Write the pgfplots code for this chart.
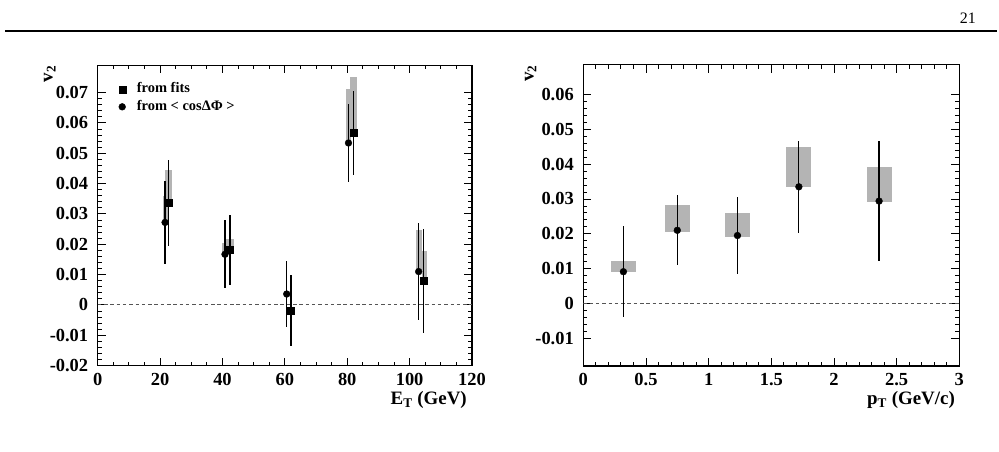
\documentclass[border=0pt]{standalone}
\usepackage{fontspec}
\setmainfont{Liberation Serif}
\usepackage{pgfplots}
\usepackage{pgfplotstable}
\pgfplotsset{compat=1.18}

\definecolor{sysgray}{RGB}{180,180,180}
\definecolor{zeroline}{RGB}{85,85,85}

% v2 vs E_T: values from <cos dPhi> and from fits
\pgfplotstableread{
x     y       err
21.6  0.0272  0.0137
40.8  0.0167  0.0112
60.6  0.0036  0.0110
80.4  0.0534  0.0128
102.9 0.0110  0.0160
}\etcos
\pgfplotstableread{
x     y       err
22.7  0.0336  0.0143
42.4  0.0182  0.0115
62.0  -0.0019 0.0118
82.0  0.0567  0.0137
104.5 0.0079  0.0170
}\etfit
% v2 vs pT
\pgfplotstableread{
x     y       err
0.32  0.0091  0.0131
0.75  0.0210  0.0101
1.23  0.0195  0.0112
1.72  0.0335  0.0133
2.36  0.0294  0.0172
}\ptcos

\pgfplotsset{
  rootframe/.style={
    scale only axis,
    axis line style={line width=1.3bp},
    tick pos=both, tick align=inside,
    major tick length=8bp, minor tick length=4bp,
    every tick/.style={line width=0.9bp, black},
    tick label style={font=\fontsize{18.5}{20}\selectfont\bfseries},
    xticklabel style={yshift=-4bp},
    yticklabel style={xshift=-6bp},
    /pgf/number format/assume math mode=true,
    scaled ticks=false,
    label style={font=\fontsize{19}{21}\selectfont\bfseries},
    minor y tick num=4,
  },
  sysbox/.style={forget plot, draw=none, fill=sysgray},
  zero/.style={forget plot, zeroline, line width=1bp, dash pattern=on 3.5bp off 2.8bp},
  pts/.style={
    only marks, black,
    error bars/y dir=both, error bars/y explicit,
    error bars/error mark=none,
    error bars/error bar style={line width=1.2bp, black},
    legend image code/.code={%
      \path (-10bp,0bp) (13bp,0bp);
      \draw[##1] plot coordinates {(0bp,0bp)};},
  },
}

\begin{document}
\begin{tikzpicture}
\path[use as bounding box] (0,0) rectangle (999bp,452bp);

% running header
\node[anchor=base east, font=\fontsize{16}{18}\selectfont, inner sep=0pt] at (976bp,428bp) {21};
\draw[line width=1.6bp] (5bp,421bp) -- (997bp,421bp);

% ---- left panel: v2 vs E_T ----
\begin{axis}[rootframe,
  at={(97.7bp,86.4bp)}, anchor=south west,
  width=374.3bp, height=300.3bp,
  xmin=0, xmax=120, ymin=-0.02, ymax=0.079,
  xtick={0,20,40,60,80,100,120}, minor x tick num=3,
  ytick={-0.02,-0.01,0,0.01,0.02,0.03,0.04,0.05,0.06,0.07},
  yticklabels={-0.02,-0.01,0,0.01,0.02,0.03,0.04,0.05,0.06,0.07},
  xlabel={E\textsubscript{T} (GeV)},
  xlabel style={at={(axis description cs:0.9866,-0.131)}, anchor=base east, inner sep=0pt},
  ylabel={v\textsubscript{2}},
  ylabel style={at={(axis description cs:-0.128,1)}, anchor=east, inner sep=0pt},
  legend style={at={(axis description cs:0.0377,0.947)}, anchor=north west,
    draw=none, fill=none, font=\fontsize{14.5}{16}\selectfont\bfseries,
    row sep=1.4bp, inner sep=0pt,
    nodes={inner sep=1.5bp, text height=10bp, text depth=3bp}},
  legend cell align=left,
]
% systematic boxes
\addplot[sysbox] coordinates {(20.8,0.0265) (22.4,0.0265) (22.4,0.0360) (20.8,0.0360)} -- cycle;
\addplot[sysbox] coordinates {(21.55,0.0322) (23.85,0.0322) (23.85,0.0446) (21.55,0.0446)} -- cycle;
\addplot[sysbox] coordinates {(40.0,0.0162) (41.6,0.0162) (41.6,0.0205) (40.0,0.0205)} -- cycle;
\addplot[sysbox] coordinates {(41.25,0.0172) (43.55,0.0172) (43.55,0.0217) (41.25,0.0217)} -- cycle;
\addplot[sysbox] coordinates {(59.8,0.0030) (61.4,0.0030) (61.4,0.0044) (59.8,0.0044)} -- cycle;
\addplot[sysbox] coordinates {(60.85,-0.0023) (63.15,-0.0023) (63.15,-0.0007) (60.85,-0.0007)} -- cycle;
\addplot[sysbox] coordinates {(79.6,0.0530) (81.2,0.0530) (81.2,0.0713) (79.6,0.0713)} -- cycle;
\addplot[sysbox] coordinates {(80.85,0.0555) (83.15,0.0555) (83.15,0.0753) (80.85,0.0753)} -- cycle;
\addplot[sysbox] coordinates {(101.9,0.0108) (103.9,0.0108) (103.9,0.0248) (101.9,0.0248)} -- cycle;
\addplot[sysbox] coordinates {(103.9,0.0075) (105.6,0.0075) (105.6,0.0178) (103.9,0.0178)} -- cycle;
\addplot[zero] coordinates {(0,0) (120,0)};
\addplot[pts, mark=square*, mark size=3.5bp] table[x=x, y=y, y error=err] {\etfit};
\addlegendentry{from fits}
\addplot[pts, mark=*, mark size=3.4bp] table[x=x, y=y, y error=err] {\etcos};
\addlegendentry{from < cosΔΦ >}
\end{axis}

% ---- right panel: v2 vs pT ----
\begin{axis}[rootframe,
  at={(583.3bp,86bp)}, anchor=south west,
  width=376bp, height=301.3bp,
  xmin=0, xmax=3, ymin=-0.018, ymax=0.0686,
  xtick={0,0.5,1,1.5,2,2.5,3}, minor x tick num=4,
  ytick={-0.01,0,0.01,0.02,0.03,0.04,0.05,0.06},
  yticklabels={-0.01,0,0.01,0.02,0.03,0.04,0.05,0.06},
  xlabel={p\textsubscript{T} (GeV/c)},
  xlabel style={at={(axis description cs:0.9886,-0.1294)}, anchor=base east, inner sep=0pt},
  ylabel={v\textsubscript{2}},
  ylabel style={at={(axis description cs:-0.14,1)}, anchor=east, inner sep=0pt},
]
\addplot[sysbox] coordinates {(0.22,0.0089) (0.42,0.0089) (0.42,0.0123) (0.22,0.0123)} -- cycle;
\addplot[sysbox] coordinates {(0.65,0.0206) (0.85,0.0206) (0.85,0.0282) (0.65,0.0282)} -- cycle;
\addplot[sysbox] coordinates {(1.13,0.0192) (1.33,0.0192) (1.33,0.0259) (1.13,0.0259)} -- cycle;
\addplot[sysbox] coordinates {(1.62,0.0334) (1.82,0.0334) (1.82,0.0450) (1.62,0.0450)} -- cycle;
\addplot[sysbox] coordinates {(2.26,0.0290) (2.46,0.0290) (2.46,0.0393) (2.26,0.0393)} -- cycle;
\addplot[zero] coordinates {(0,0) (3,0)};
\addplot[pts, mark=*, mark size=3.4bp] table[x=x, y=y, y error=err] {\ptcos};
\end{axis}
\end{tikzpicture}
\end{document}
